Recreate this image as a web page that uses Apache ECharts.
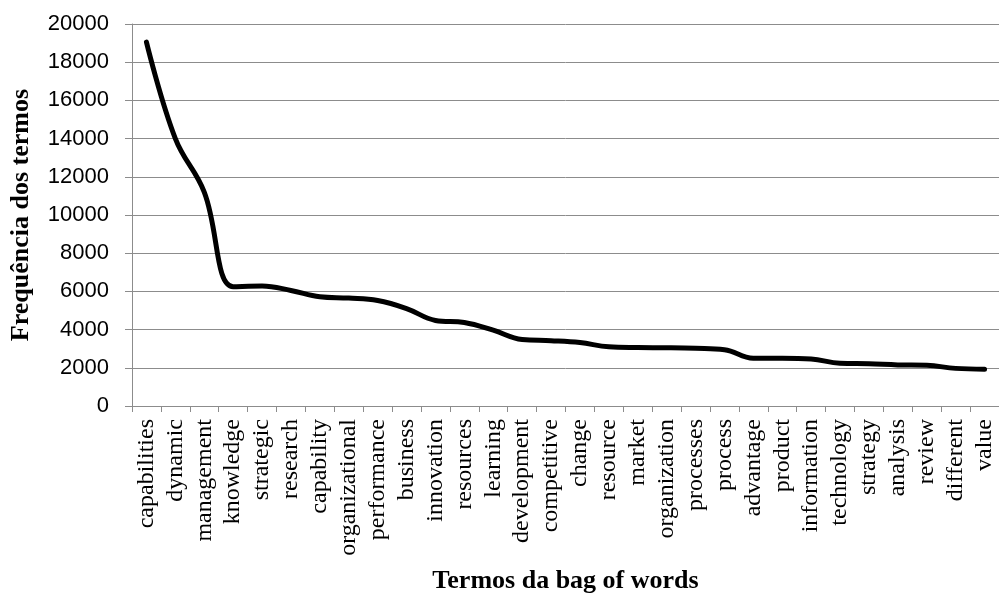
<!DOCTYPE html>
<html>
<head>
<meta charset="utf-8">
<script src="https://cdn.jsdelivr.net/npm/echarts@6/dist/echarts.min.js"></script>
<style>
  html, body { margin: 0; padding: 0; background: #fff; }
  #chart { width: 999px; height: 599px; }
</style>
</head>
<body>
<div id="chart"></div>
<script>
// Term frequencies from the bag of words, most frequent first
const terms = [
  'capabilities', 'dynamic', 'management', 'knowledge', 'strategic',
  'research', 'capability', 'organizational', 'performance', 'business',
  'innovation', 'resources', 'learning', 'development', 'competitive',
  'change', 'resource', 'market', 'organization', 'processes',
  'process', 'advantage', 'product', 'information', 'technology',
  'strategy', 'analysis', 'review', 'different', 'value'
];
const frequencies = [
  19050, 14000, 11200, 6250, 6280,
  6050, 5720, 5650, 5520, 5100,
  4480, 4370, 3970, 3480, 3420,
  3320, 3100, 3060, 3050, 3020,
  2950, 2500, 2500, 2460, 2240,
  2210, 2150, 2130, 1970, 1930
];
const yTicks = { min: 0, max: 20000, step: 2000 };

const serif = '"Times New Roman", "Liberation Serif", serif';
const sans = 'Arial, "Liberation Sans", sans-serif';
const gridGray = '#8c8c8c';

const chart = echarts.init(document.getElementById('chart'), null, { renderer: 'canvas' });
chart.setOption({
  animation: false,
  backgroundColor: '#ffffff',
  grid: { left: 131, right: -6, top: 24, bottom: 189, containLabel: false },
  xAxis: {
    type: 'category',
    data: terms,
    boundaryGap: true,
    name: 'Termos da bag of words',
    nameLocation: 'middle',
    nameGap: 162,
    nameTextStyle: { fontFamily: serif, fontWeight: 'bold', fontSize: 26, color: '#000' },
    axisLine: { lineStyle: { color: gridGray, width: 1 } },
    axisTick: { show: true, interval: 0, length: 6, lineStyle: { color: gridGray } },
    axisLabel: {
      interval: 0, rotate: 90, margin: 13,
      fontFamily: serif, fontSize: 24, color: '#000'
    },
    splitLine: { show: false }
  },
  yAxis: {
    type: 'value',
    min: yTicks.min,
    max: yTicks.max,
    interval: yTicks.step,
    name: 'Frequência dos termos',
    nameLocation: 'middle',
    nameRotate: 90,
    nameGap: 98,
    nameTextStyle: { fontFamily: serif, fontWeight: 'bold', fontSize: 26, color: '#000' },
    axisLine: { show: true, lineStyle: { color: gridGray, width: 1 } },
    axisTick: { show: true, length: 7, lineStyle: { color: gridGray } },
    axisLabel: {
      margin: 23, fontFamily: sans, fontSize: 22, color: '#000',
      formatter: (v) => String(v)
    },
    splitLine: { show: true, lineStyle: { color: gridGray, width: 1 } }
  },
  series: [{
    type: 'line',
    data: frequencies,
    smooth: 0.4,
    symbol: 'none',
    lineStyle: { color: '#000', width: 5, cap: 'round', join: 'round' }
  }]
});
</script>
</body>
</html>
